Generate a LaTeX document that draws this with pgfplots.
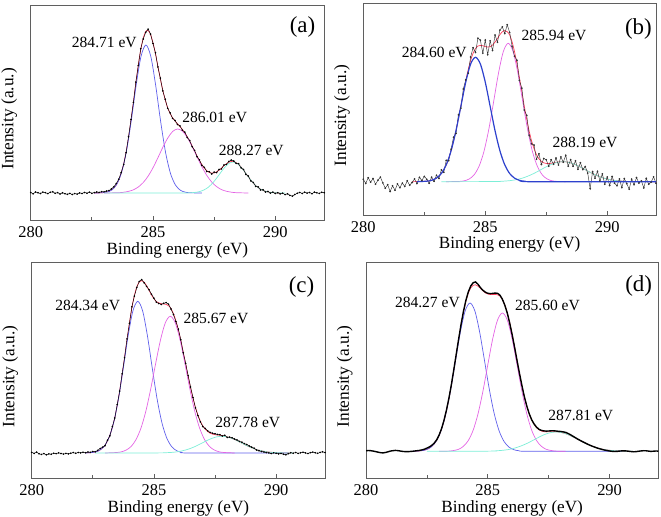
\documentclass[border=0pt]{standalone}
\usepackage{fontspec}
\setmainfont{Liberation Serif}
\usepackage{pgfplots}
\pgfplotsset{compat=1.18}
\definecolor{colB}{RGB}{95,95,235}
\definecolor{colBd}{RGB}{45,65,205}
\definecolor{colM}{RGB}{228,100,228}
\definecolor{colC}{RGB}{125,238,215}
\definecolor{colR}{RGB}{255,60,90}
\definecolor{colAx}{RGB}{95,95,95}
\tikzset{
ann/.style={font=\fontsize{15.6}{15.6}\selectfont, inner sep=0pt},
plab/.style={font=\fontsize{23}{23}\selectfont, inner sep=0pt},
}
\pgfplotsset{xps/.style={
  scale only axis, xmin=280, xmax=292,
  xtick={280,285,290}, xticklabels={280,285,290},
  minor xtick={282.5,287.5},
  ytick=\empty,
  xtick pos=bottom,
  tick align=inside,
  major tick length=3.5bp, minor tick length=2.5bp,
  axis line style={colAx, line width=0.7bp},
  every tick/.style={colAx, line width=0.7bp},
  every minor tick/.style={colAx, line width=0.7bp},
  xticklabel style={font=\fontsize{16.5}{16.5}\selectfont, anchor=base, yshift=-17.5bp},
  xlabel={Binding energy (eV)},
  ylabel={Intensity (a.u.)},
  xlabel style={font=\fontsize{17.2}{17.2}\selectfont, at={(axis description cs:0.5,-0.16)}, anchor=base},
  ylabel style={font=\fontsize{17.4}{17.4}\selectfont, at={(axis description cs:-0.059,0.47)}, anchor=base},
  clip=true,
},
dat/.style={black, line width=0.45bp, mark=*, mark size=0.55bp, mark options={solid}},
env/.style={colR, line width=0.7bp, smooth},
}
\begin{document}
\begin{tikzpicture}
\useasboundingbox (0,0) rectangle (661bp,517bp);
% ---------------- (a)
\begin{axis}[xps, at={(30.7bp,297bp)}, anchor=south west, width=293.5bp, height=215bp, ymin=-27, ymax=188]
\addplot[env] coordinates {(282.6,0)(282.8,0.1)(283.0,0.45)(283.1,0.9)(283.2,1.6)(283.3,3.0)(283.4,4.9)(283.5,8.3)(283.6,12.9)(283.7,19.8)(283.8,29.0)(283.9,41.1)(284.0,55.6)(284.1,72.7)(284.2,91.2)(284.3,110.2)(284.4,128.1)(284.5,143.5)(284.6,154.8)(284.7,161.4)(284.8,162.4)(284.9,158.5)(285.0,150.2)(285.1,139.3)(285.2,126.7)(285.3,114.2)(285.4,102.8)(285.5,93.0)(285.6,85.2)(285.7,79.5)(285.8,75.2)(285.9,72.0)(286.0,69.3)(286.1,66.6)(286.2,63.6)(286.3,60.2)(286.4,56.3)(286.5,51.8)(286.6,47.0)(286.7,42.0)(286.8,37.1)(286.9,32.4)(287.0,28.4)(287.1,24.9)(287.2,22.3)(287.3,20.5)(287.4,19.9)(287.5,20.0)(287.6,21.2)(287.7,22.8)(287.8,24.9)(287.9,27.2)(288.0,29.2)(288.1,30.8)(288.2,31.6)(288.3,31.4)(288.4,30.4)(288.5,28.6)(288.6,26.0)(288.7,22.8)(288.8,19.5)(288.9,16.1)(289.0,12.9)(289.1,9.9)(289.2,7.4)(289.3,5.4)(289.4,3.8)(289.5,2.5)(289.6,1.7)(289.7,1.05)(289.8,0.65)(290.0,0.2)(290.2,0)};
\addplot[colB, line width=0.7bp, smooth] coordinates {(282.6,0)(282.91,0.2)(283.11,0.9)(283.31,2.9)(283.51,8.3)(283.71,20.0)(283.91,41.1)(284.11,72.0)(284.31,107.5)(284.51,136.6)(284.71,148)(284.91,136.6)(285.11,107.5)(285.31,72.0)(285.51,41.1)(285.71,20.0)(285.91,8.3)(286.11,2.9)(286.31,0.9)(286.51,0.2)(287.0,0)};
\addplot[colM, line width=0.7bp, smooth] coordinates {(283.0,0)(283.61,0.3)(283.81,0.8)(284.01,1.7)(284.21,3.3)(284.41,6.2)(284.61,10.7)(284.81,17.2)(285.01,25.7)(285.21,35.7)(285.41,46.1)(285.61,55.2)(285.81,61.7)(286.01,64)(286.21,61.7)(286.41,55.2)(286.61,46.1)(286.81,35.7)(287.01,25.7)(287.21,17.2)(287.41,10.7)(287.61,6.2)(287.81,3.3)(288.01,1.7)(288.21,0.8)(288.41,0.3)(288.9,0)};
\addplot[colC, line width=0.7bp, smooth] coordinates {(283.0,0)(286.1,0)(286.47,0.15)(286.67,0.45)(286.87,1.2)(287.07,2.9)(287.27,5.9)(287.47,10.8)(287.67,17.1)(287.87,23.8)(288.07,29.0)(288.27,31)(288.47,29.0)(288.67,23.8)(288.87,17.1)(289.07,10.8)(289.27,5.9)(289.47,2.9)(289.67,1.2)(289.87,0.45)(290.07,0.15)(290.4,0)};
\addplot[dat] coordinates {(280.0,0.5)(280.1,-0.8)(280.2,1.0)(280.3,0.2)(280.4,-0.5)(280.5,0.9)(280.6,0.3)(280.7,-0.6)(280.8,0.7)(280.9,1.2)(281.0,-0.3)(281.1,0.4)(281.2,-1.0)(281.3,0.2)(281.4,-0.7)(281.5,-1.3)(281.6,-0.4)(281.7,-1.5)(281.8,-0.6)(281.9,-1.1)(282.0,0.1)(282.1,-0.5)(282.2,0.6)(282.3,-0.2)(282.4,0.8)(282.5,-0.3)(282.6,0.4)(282.7,1.0)(282.8,0.6)(282.9,1.3)(283.0,1.2)(283.1,1.9)(283.2,2.4)(283.3,4.1)(283.4,6.2)(283.5,9.5)(283.6,13.8)(283.7,20.4)(283.8,28.5)(283.9,40.3)(284.0,56.2)(284.1,73.5)(284.2,90.6)(284.3,110.9)(284.4,127.5)(284.5,144.3)(284.6,154.0)(284.7,160.6)(284.8,163.8)(284.9,158.9)(285.0,149.5)(285.1,140.2)(285.2,126.0)(285.3,114.9)(285.4,102.1)(285.5,93.8)(285.6,84.7)(285.7,80.1)(285.8,74.6)(285.9,72.6)(286.0,68.5)(286.1,67.2)(286.2,62.8)(286.3,60.9)(286.4,55.5)(286.5,52.5)(286.6,46.3)(286.7,42.6)(286.8,36.3)(286.9,33.1)(287.0,27.6)(287.1,25.6)(287.2,21.5)(287.3,21.3)(287.4,19.0)(287.5,20.9)(287.6,20.4)(287.7,23.6)(287.8,24.1)(287.9,28.0)(288.0,28.5)(288.1,31.6)(288.2,32.9)(288.3,32.0)(288.4,29.6)(288.5,29.3)(288.6,25.1)(288.7,23.6)(288.8,18.6)(288.9,16.9)(289.0,12.1)(289.1,10.6)(289.2,6.6)(289.3,6.1)(289.4,3.0)(289.5,3.2)(289.6,0.9)(289.7,1.6)(289.8,-0.2)(289.9,0.9)(290.0,-0.5)(290.1,0.3)(290.2,-0.9)(290.3,-0.2)(290.4,-1.6)(290.5,-0.8)(290.6,-2.4)(290.7,-3.2)(290.8,-1.5)(290.9,-0.3)(291.0,0.6)(291.1,-0.5)(291.2,0.8)(291.3,-0.1)(291.4,0.5)(291.5,-0.7)(291.6,0.9)(291.7,0.2)(291.8,-0.4)(291.9,0.7)(292.0,0.3)};
\node[ann] at (axis cs:283.01,150.5) {284.71 eV};
\node[ann] at (axis cs:287.52,75.7) {286.01 eV};
\node[ann] at (axis cs:289.02,42.3) {288.27 eV};
\node[plab] at (axis description cs:0.926,0.898) {(a)};
\end{axis}
% ---------------- (b)
\begin{axis}[xps, at={(363.3bp,302bp)}, anchor=south west, width=292.7bp, height=211.5bp, ymin=-33.3, ymax=178.2]
\addplot[env] coordinates {(282.0,0)(282.6,0.5)(282.8,1.4)(283.0,3.6)(283.2,8.2)(283.4,16.8)(283.6,31.1)(283.8,51.3)(284.0,75.8)(284.2,100.8)(284.3,112.0)(284.4,121.2)(284.5,128.4)(284.6,133.2)(284.7,135.7)(284.8,136.3)(284.9,136.0)(285.0,135.1)(285.1,134.7)(285.2,135.0)(285.3,136.7)(285.4,139.6)(285.5,143.2)(285.6,147.0)(285.7,149.9)(285.8,151.1)(285.9,150.0)(286.0,146.8)(286.1,139.8)(286.2,130.0)(286.3,117.7)(286.4,104.1)(286.5,89.8)(286.6,75.5)(286.7,62.4)(286.8,50.6)(286.9,40.7)(287.0,33.0)(287.1,27.1)(287.2,22.9)(287.3,20.3)(287.4,18.8)(287.6,18.1)(287.8,18.9)(288.0,19.8)(288.2,20.0)(288.4,19.5)(288.6,18.0)(288.8,15.9)(289.0,13.3)(289.2,10.7)(289.4,8.1)(289.6,5.9)(289.8,4.0)(290.0,2.7)(290.2,1.7)(290.4,1.0)(290.6,0.6)(290.8,0.3)(291.0,0.15)(292.0,0)};
\addplot[colM, line width=0.7bp, smooth] coordinates {(283.4,0)(283.94,0.3)(284.14,0.9)(284.34,2.7)(284.54,6.8)(284.74,15.1)(284.94,29.7)(285.14,51.7)(285.34,79.5)(285.54,108.2)(285.74,130.1)(285.94,138.4)(286.14,130.1)(286.34,108.2)(286.54,79.5)(286.74,51.7)(286.94,29.7)(287.14,15.1)(287.34,6.8)(287.54,2.7)(287.74,0.9)(287.94,0.3)(288.3,0)};
\addplot[colC, line width=0.7bp, smooth] coordinates {(283.2,0)(285.39,0.15)(285.59,0.3)(285.79,0.6)(285.99,1.0)(286.19,1.7)(286.39,2.7)(286.59,4.1)(286.79,6.0)(286.99,8.2)(287.19,10.8)(287.39,13.5)(287.59,16.0)(287.79,18.1)(287.99,19.5)(288.19,20)(288.39,19.5)(288.59,18.1)(288.79,16.0)(288.99,13.5)(289.19,10.8)(289.39,8.2)(289.59,6.0)(289.79,4.1)(289.99,2.7)(290.19,1.7)(290.39,1.0)(290.59,0.6)(290.79,0.3)(290.99,0.15)(291.3,0)};
\addplot[black!80, line width=0.45bp, mark=*, mark size=0.6bp, mark options={solid}] coordinates {(280.0,2.5)(280.1,-1.8)(280.2,4.0)(280.3,-0.5)(280.4,3.2)(280.5,-2.6)(280.6,1.5)(280.7,4.6)(280.8,-1.2)(280.9,-6.5)(281.0,-3.0)(281.1,-9.8)(281.2,-4.1)(281.3,-8.6)(281.4,-2.2)(281.5,-6.0)(281.6,-1.4)(281.7,-4.8)(281.8,0.9)(281.9,-3.5)(282.0,-0.8)(282.1,2.8)(282.2,-1.9)(282.3,4.4)(282.4,1.2)(282.5,5.3)(282.6,2.5)(282.7,-1.6)(282.8,4.5)(282.9,0.4)(283.0,6.5)(283.1,3.2)(283.2,11.8)(283.3,9.4)(283.4,21.3)(283.5,21.0)(283.6,32.6)(283.7,44.5)(283.8,48.3)(283.9,66.8)(284.0,73.6)(284.1,92.7)(284.2,101.8)(284.3,108.5)(284.4,124.7)(284.5,134.0)(284.6,129.2)(284.7,143.5)(284.8,141.5)(284.9,128.6)(285.0,141.6)(285.1,127.0)(285.2,140.8)(285.3,131.2)(285.4,146.6)(285.5,139.5)(285.6,151.6)(285.7,154.8)(285.8,148.1)(285.9,157.0)(286.0,149.3)(286.1,135.5)(286.2,125.5)(286.3,121.4)(286.4,101.3)(286.5,93.5)(286.6,71.7)(286.7,66.3)(286.8,46.5)(286.9,37.9)(287.0,36.6)(287.1,22.4)(287.2,27.9)(287.3,17.2)(287.4,23.2)(287.5,21.9)(287.6,15.5)(287.7,22.0)(287.8,17.4)(287.9,23.6)(288.0,16.7)(288.1,24.8)(288.2,19.5)(288.3,26.5)(288.4,15.5)(288.5,22.1)(288.6,15.4)(288.7,20.8)(288.8,12.4)(288.9,19.0)(289.0,12.1)(289.1,15.2)(289.2,8.6)(289.3,-7.0)(289.4,10.1)(289.5,3.5)(289.6,10.4)(289.7,0.8)(289.8,7.8)(289.9,-2.5)(290.0,4.7)(290.1,-3.8)(290.2,5.2)(290.3,-1.5)(290.4,-4.0)(290.5,2.7)(290.6,-5.9)(290.7,3.1)(290.8,-1.9)(290.9,-7.5)(291.0,2.6)(291.1,-3.0)(291.2,4.1)(291.3,-1.4)(291.4,0.9)(291.5,-6.2)(291.6,3.3)(291.7,-2.5)(291.8,-0.4)(291.9,4.8)(292.0,-1.5)};
\addplot[colBd, line width=1.2bp, smooth] coordinates {(282.2,0)(282.6,0.5)(282.8,1.4)(283.0,3.6)(283.2,8.2)(283.4,16.8)(283.6,31.0)(283.8,51.1)(284.0,75.4)(284.2,99.6)(284.4,117.7)(284.6,124.4)(284.8,117.7)(285.0,99.6)(285.2,75.4)(285.4,51.1)(285.6,31.0)(285.8,16.8)(286.0,8.2)(286.2,3.6)(286.4,1.4)(286.6,0.5)(287.0,0)(292.0,0)};
\node[ann] at (axis cs:282.91,129.4) {284.60 eV};
\node[ann] at (axis cs:287.82,146) {285.94 eV};
\node[ann] at (axis cs:289.09,39.4) {288.19 eV};
\node[plab] at (axis description cs:0.94,0.879) {(b)};
\end{axis}
% ---------------- (c)
\begin{axis}[xps, at={(31.7bp,39bp)}, anchor=south west, width=293.3bp, height=216bp, ymin=-25, ymax=191]
\addplot[env] coordinates {(282.2,0.1)(282.4,0.3)(282.6,1.0)(282.8,3.0)(283.0,7.8)(283.1,12.0)(283.2,17.9)(283.3,25.6)(283.4,35.5)(283.5,47.8)(283.6,62.4)(283.7,78.5)(283.8,95.9)(283.9,113.4)(284.0,130.3)(284.1,145.4)(284.2,157.4)(284.3,166.2)(284.4,171.0)(284.5,172.5)(284.6,170.9)(284.7,167.3)(284.8,162.8)(284.9,158.1)(285.0,154.2)(285.1,151.4)(285.2,150.1)(285.3,149.2)(285.4,149.0)(285.5,148.6)(285.6,147.3)(285.7,144.3)(285.8,139.3)(285.9,132.1)(286.0,123.2)(286.1,112.5)(286.2,100.9)(286.3,88.8)(286.4,76.8)(286.5,65.1)(286.6,54.8)(286.7,45.7)(286.8,38.1)(286.9,31.9)(287.0,27.2)(287.1,23.8)(287.2,21.4)(287.3,19.8)(287.4,18.9)(287.5,18.3)(287.6,18.0)(287.8,17.3)(288.0,16.3)(288.2,14.5)(288.4,12.4)(288.6,9.9)(288.8,7.4)(289.0,5.2)(289.2,3.5)(289.4,2.2)(289.6,1.3)(289.8,0.7)(290.0,0.4)(290.2,0.2)(290.4,0.1)(290.6,0)};
\addplot[colB, line width=0.7bp, smooth] coordinates {(282.2,0)(282.54,0.7)(282.74,2.2)(282.94,6.0)(283.14,14.1)(283.34,29.1)(283.54,52.7)(283.74,83.7)(283.94,116.4)(284.14,142.0)(284.34,151.7)(284.54,142.0)(284.74,116.4)(284.94,83.7)(285.14,52.7)(285.34,29.1)(285.54,14.1)(285.74,6.0)(285.94,2.2)(286.14,0.7)(286.5,0)(290.5,0)};
\addplot[colM, line width=0.7bp, smooth] coordinates {(283.0,0)(283.47,0.5)(283.67,1.2)(283.87,3.0)(284.07,6.6)(284.27,13.5)(284.47,24.9)(284.67,41.8)(284.87,64.1)(285.07,89.3)(285.27,113.1)(285.47,130.4)(285.67,136.7)(285.87,130.4)(286.07,113.1)(286.27,89.3)(286.47,64.1)(286.67,41.8)(286.87,24.9)(287.07,13.5)(287.27,6.6)(287.47,3.0)(287.67,1.2)(287.87,0.5)(288.3,0)};
\addplot[colC, line width=0.7bp, smooth] coordinates {(282.6,0)(285.18,0.1)(285.38,0.2)(285.58,0.4)(285.78,0.7)(285.98,1.3)(286.18,2.3)(286.38,3.6)(286.58,5.4)(286.78,7.6)(286.98,10.1)(287.18,12.6)(287.38,14.7)(287.58,16.2)(287.78,16.7)(287.98,16.2)(288.18,14.7)(288.38,12.6)(288.58,10.1)(288.78,7.6)(288.98,5.4)(289.18,3.6)(289.38,2.3)(289.58,1.3)(289.78,0.7)(289.98,0.4)(290.18,0.2)(290.38,0.1)(290.7,0)};
\addplot[dat] coordinates {(280.0,0.6)(280.1,-0.4)(280.2,0.9)(280.3,-0.8)(280.4,-1.4)(280.5,-0.6)(280.6,-1.8)(280.7,-0.9)(280.8,-1.2)(280.9,-0.3)(281.0,-0.7)(281.1,0.2)(281.2,-0.5)(281.3,-1.1)(281.4,-0.4)(281.5,-0.9)(281.6,-0.2)(281.7,0.4)(281.8,-0.3)(281.9,0.5)(282.0,0.1)(282.1,0.8)(282.2,0.3)(282.3,1.0)(282.4,0.7)(282.5,1.5)(282.6,1.2)(282.7,2.6)(282.8,4.5)(282.9,5.8)(283.0,7.3)(283.1,12.8)(283.2,17.2)(283.3,26.4)(283.4,35.0)(283.5,48.5)(283.6,61.9)(283.7,79.2)(283.8,95.3)(283.9,114.1)(284.0,129.6)(284.1,146.2)(284.2,156.9)(284.3,165.5)(284.4,171.6)(284.5,173.4)(284.6,170.2)(284.7,166.6)(284.8,163.3)(284.9,158.8)(285.0,154.9)(285.1,150.8)(285.2,149.5)(285.3,148.6)(285.4,149.7)(285.5,150.4)(285.6,148.8)(285.7,144.0)(285.8,138.5)(285.9,131.4)(286.0,123.9)(286.1,113.2)(286.2,100.3)(286.3,89.6)(286.4,77.5)(286.5,66.0)(286.6,55.4)(286.7,45.1)(286.8,37.4)(286.9,31.2)(287.0,26.5)(287.1,24.5)(287.2,22.2)(287.3,20.6)(287.4,19.8)(287.5,19.2)(287.6,18.6)(287.7,18.3)(287.8,17.0)(287.9,17.7)(288.0,15.6)(288.1,15.9)(288.2,15.2)(288.3,14.0)(288.4,13.1)(288.5,11.6)(288.6,10.8)(288.7,9.4)(288.8,8.5)(288.9,7.1)(289.0,5.9)(289.1,4.8)(289.2,3.0)(289.3,2.2)(289.4,1.5)(289.5,1.0)(289.6,0.4)(289.7,0.1)(289.8,-0.6)(289.9,0.2)(290.0,-0.3)(290.1,-0.9)(290.2,-0.4)(290.3,-1.2)(290.4,-1.8)(290.5,-0.7)(290.6,0.3)(290.7,-0.2)(290.8,0.5)(290.9,-0.4)(291.0,0.2)(291.1,0.8)(291.2,0.1)(291.3,-0.5)(291.4,0.3)(291.5,0.9)(291.6,0.2)(291.7,-0.3)(291.8,0.6)(291.9,1.2)(292.0,0.4)};
\node[ann] at (axis cs:282.29,147.7) {284.34 eV};
\node[ann] at (axis cs:287.54,134.3) {285.67 eV};
\node[ann] at (axis cs:288.84,31) {287.78 eV};
\node[plab] at (axis description cs:0.92,0.884) {(c)};
\end{axis}
% ---------------- (d)
\begin{axis}[xps, at={(366bp,39bp)}, anchor=south west, width=292.3bp, height=216bp, ymin=-26.7, ymax=189.3]
\addplot[env] coordinates {(282.0,0.1)(282.2,0.4)(282.4,1.2)(282.6,3.1)(282.8,7.4)(282.9,10.9)(283.0,15.8)(283.1,22.2)(283.2,30.3)(283.3,40.3)(283.4,52.1)(283.5,65.5)(283.6,80.3)(283.7,95.7)(283.8,111.1)(283.9,125.9)(284.0,139.0)(284.1,149.9)(284.2,158.1)(284.3,163.5)(284.4,166.0)(284.5,166.5)(284.6,165.1)(284.7,162.9)(284.8,160.5)(284.9,158.5)(285.0,157.3)(285.1,156.8)(285.2,156.8)(285.3,156.9)(285.4,156.5)(285.5,155.3)(285.6,151.8)(285.7,146.3)(285.8,138.6)(285.9,128.7)(286.0,117.1)(286.1,104.5)(286.2,91.2)(286.3,78.2)(286.4,66.1)(286.5,54.9)(286.6,45.5)(286.7,37.7)(286.8,31.5)(286.9,27.0)(287.0,23.7)(287.1,21.5)(287.2,20.3)(287.3,19.7)(287.4,19.4)(287.6,19.6)(287.8,19.6)(288.0,18.9)(288.2,17.6)(288.4,15.6)(288.6,13.1)(288.8,10.5)(289.0,8.1)(289.2,5.9)(289.4,4.1)(289.6,2.7)(289.8,1.7)(290.0,1.0)(290.2,0.6)(290.4,0.3)(290.6,0.15)(290.8,0)};
\addplot[colB, line width=0.7bp, smooth] coordinates {(281.9,0)(282.27,0.6)(282.47,1.6)(282.67,4.2)(282.87,9.7)(283.07,20.1)(283.27,37.0)(283.47,61.0)(283.67,89.9)(283.87,118.7)(284.07,140.3)(284.27,148.3)(284.47,140.3)(284.67,118.7)(284.87,89.9)(285.07,61.0)(285.27,37.0)(285.47,20.1)(285.67,9.7)(285.87,4.2)(286.07,1.6)(286.27,0.6)(286.7,0)(290.5,0)};
\addplot[colM, line width=0.7bp, smooth] coordinates {(283.0,0)(283.4,0.2)(283.6,0.8)(283.8,2.0)(284.0,5.0)(284.2,10.8)(284.4,21.2)(284.6,37.6)(284.8,60.1)(285.0,86.5)(285.2,112.3)(285.4,131.3)(285.6,138.3)(285.8,131.3)(286.0,112.3)(286.2,86.5)(286.4,60.1)(286.6,37.6)(286.8,21.2)(287.0,10.8)(287.2,5.0)(287.4,2.0)(287.6,0.8)(287.8,0.2)(288.2,0)};
\addplot[colC, line width=0.7bp, smooth] coordinates {(282.5,0)(285.01,0.15)(285.21,0.3)(285.41,0.6)(285.61,1.0)(285.81,1.6)(286.01,2.6)(286.21,4.0)(286.41,5.8)(286.61,7.9)(286.81,10.4)(287.01,13.0)(287.21,15.5)(287.41,17.5)(287.61,18.8)(287.81,19.3)(288.01,18.8)(288.21,17.5)(288.41,15.5)(288.61,13.0)(288.81,10.4)(289.01,7.9)(289.21,5.8)(289.41,4.0)(289.61,2.6)(289.81,1.6)(290.01,1.0)(290.21,0.6)(290.41,0.3)(290.61,0.15)(290.9,0)};
\addplot[black, line width=1.4bp] coordinates {(280.0,0.5)(280.1,0.8)(280.2,0.6)(280.3,0.2)(280.4,-0.3)(280.5,-0.9)(280.6,-1.4)(280.7,-1.6)(280.8,-1.2)(280.9,-0.5)(281.0,0.2)(281.1,0.6)(281.2,0.9)(281.3,0.7)(281.4,0.3)(281.5,-0.1)(281.6,-0.3)(281.7,-0.4)(281.8,-0.2)(281.9,0.0)(282.0,0.3)(282.1,0.6)(282.2,0.9)(282.3,1.4)(282.4,2.1)(282.5,3.2)(282.6,4.3)(282.7,5.9)(282.8,8.2)(282.9,11.4)(283.0,16.2)(283.1,22.5)(283.2,30.8)(283.3,40.9)(283.4,52.6)(283.5,66.0)(283.6,80.9)(283.7,96.4)(283.8,111.8)(283.9,126.6)(284.0,139.8)(284.1,150.9)(284.2,159.4)(284.3,165.3)(284.4,168.6)(284.5,169.4)(284.6,167.0)(284.7,163.6)(284.8,161.0)(284.9,159.1)(285.0,158.0)(285.1,157.7)(285.2,157.9)(285.3,158.2)(285.4,158.0)(285.5,156.1)(285.6,152.0)(285.7,146.0)(285.8,138.2)(285.9,128.1)(286.0,116.6)(286.1,104.0)(286.2,90.8)(286.3,77.9)(286.4,65.8)(286.5,54.6)(286.6,45.3)(286.7,37.6)(286.8,31.6)(286.9,27.3)(287.0,24.2)(287.1,22.0)(287.2,20.9)(287.3,20.4)(287.4,20.2)(287.5,20.3)(287.6,20.5)(287.7,20.5)(287.8,20.3)(287.9,20.0)(288.0,19.8)(288.1,19.4)(288.2,18.9)(288.3,17.8)(288.4,16.5)(288.5,15.0)(288.6,13.6)(288.7,12.1)(288.8,10.8)(288.9,9.5)(289.0,8.3)(289.1,7.1)(289.2,6.0)(289.3,5.0)(289.4,4.1)(289.5,3.2)(289.6,2.5)(289.7,1.8)(289.8,1.2)(289.9,0.7)(290.0,0.3)(290.1,0.0)(290.2,-0.2)(290.3,-0.1)(290.4,0.2)(290.5,0.4)(290.6,0.5)(290.7,0.3)(290.8,0.0)(290.9,-0.3)(291.0,-0.5)(291.1,-0.3)(291.2,0.1)(291.3,0.4)(291.4,0.6)(291.5,0.5)(291.6,0.2)(291.7,-0.1)(291.8,0.1)(291.9,0.3)(292.0,0.2)};
\node[ann] at (axis cs:282.52,149.3) {284.27 eV};
\node[ann] at (axis cs:287.45,146) {285.60 eV};
\node[ann] at (axis cs:288.82,36) {287.81 eV};
\node[plab] at (axis description cs:0.933,0.887) {(d)};
\end{axis}
\end{tikzpicture}
\end{document}
